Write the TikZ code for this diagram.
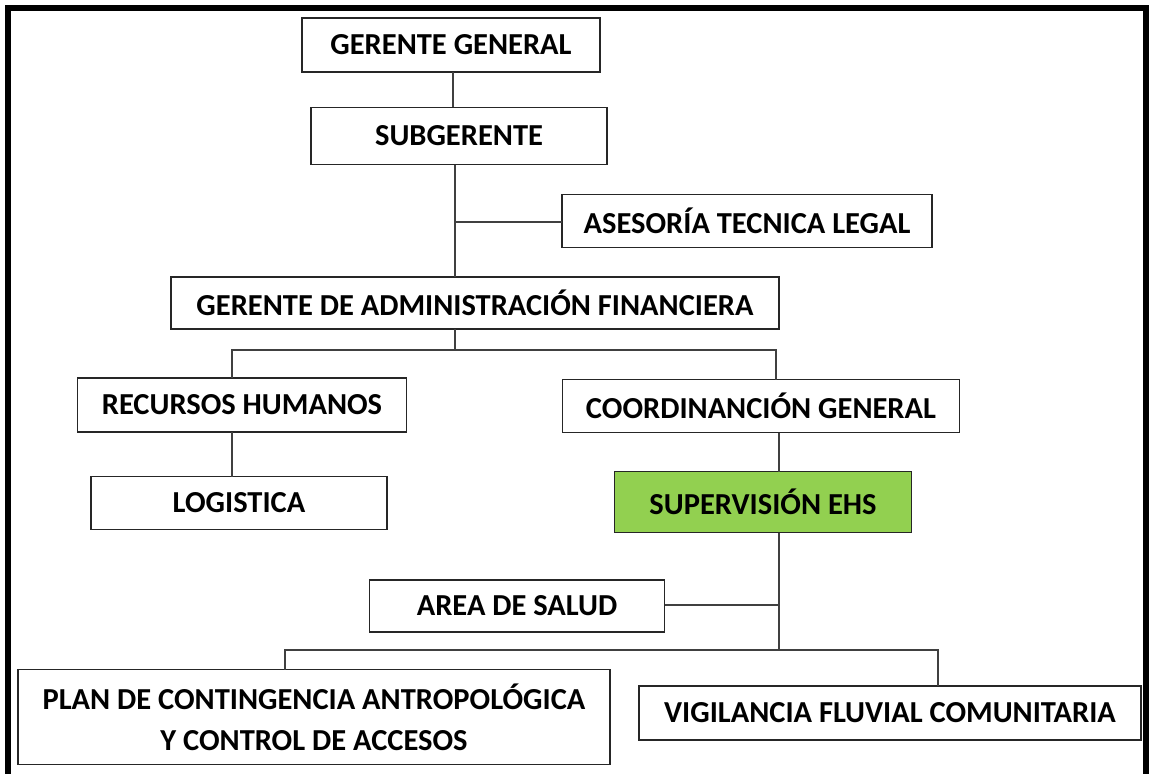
\documentclass[tikz,border=0pt]{standalone}
\usepackage{fontspec}
\setmainfont{Carlito}
\usepackage{xcolor}
\usepackage{tikz}
\definecolor{ehsgreen}{HTML}{92D050}
\tikzset{
  unit/.style={
    draw=black!85,
    line width=1.3pt,
    rectangle,
    inner sep=0pt,
    outer sep=0pt,
    align=center,
    font=\fontsize{30.5}{41}\selectfont\bfseries
  },
  link/.style={
    draw=black!75,
    line width=1.3pt
  }
}
\begin{document}
\begin{tikzpicture}[x=1pt, y=-1pt]
\useasboundingbox (0,0) rectangle (1150,773);
\draw[line width=6pt] (8,800) -- (8,8) -- (1146,8) -- (1146,800);

\node[unit, minimum width=298pt, minimum height=54pt] (gg) at (451,45) {GERENTE GENERAL};
\node[unit, minimum width=296pt, minimum height=57pt] (sub) at (459,136) {SUBGERENTE};
\node[unit, minimum width=370pt, minimum height=53pt] (atl) at (747,221) {ASESORÍA TECNICA LEGAL};
\node[unit, minimum width=608pt, minimum height=52pt] (gaf) at (475,303) {GERENTE DE ADMINISTRACIÓN FINANCIERA};
\node[unit, minimum width=329pt, minimum height=54pt] (rh) at (242,405) {RECURSOS HUMANOS};
\node[unit, minimum width=296pt, minimum height=53pt] (log) at (239,503) {LOGISTICA};
\node[unit, minimum width=397pt, minimum height=53pt] (cg) at (761,406) {COORDINANCIÓN GENERAL};
\node[unit, fill=ehsgreen, minimum width=297pt, minimum height=61pt] (sup) at (763,502) {SUPERVISIÓN EHS};
\node[unit, minimum width=295pt, minimum height=52pt] (as) at (517,606) {AREA DE SALUD};
\node[unit, minimum width=592pt, minimum height=95pt] (plan) at (314,717) {PLAN DE CONTINGENCIA ANTROPOLÓGICA\\Y CONTROL DE ACCESOS};
\node[unit, minimum width=502pt, minimum height=54pt] (vig) at (890,713) {VIGILANCIA FLUVIAL COMUNITARIA};

% junctions
\coordinate (j1) at (455,222);
\coordinate (b1) at (455,350);
\coordinate (b1l) at (232,350);
\coordinate (b1r) at (776,350);
\coordinate (b2) at (779,605);
\coordinate (b3) at (779,650);
\coordinate (b3l) at (285,650);
\coordinate (b3r) at (938,650);

\draw[link] (gg.south -| 453,0) -- (sub.north -| 453,0);
\draw[link] (sub.south -| j1) -- (gaf.north -| j1)
            (j1) -- (j1 -| atl.west);
\draw[link] (gaf.south -| b1) -- (b1);
\draw[link] (b1l |- rh.north) -- (b1l) -- (b1r) -- (b1r |- cg.north);
\draw[link] (rh.south -| b1l) -- (log.north -| b1l);
\draw[link] (cg.south -| b2) -- (sup.north -| b2);
\draw[link] (sup.south -| b2) -- (b3)
            (as.east |- b2) -- (b2);
\draw[link] (b3l |- plan.north) -- (b3l) -- (b3r) -- (b3r |- vig.north);
\end{tikzpicture}
\end{document}
